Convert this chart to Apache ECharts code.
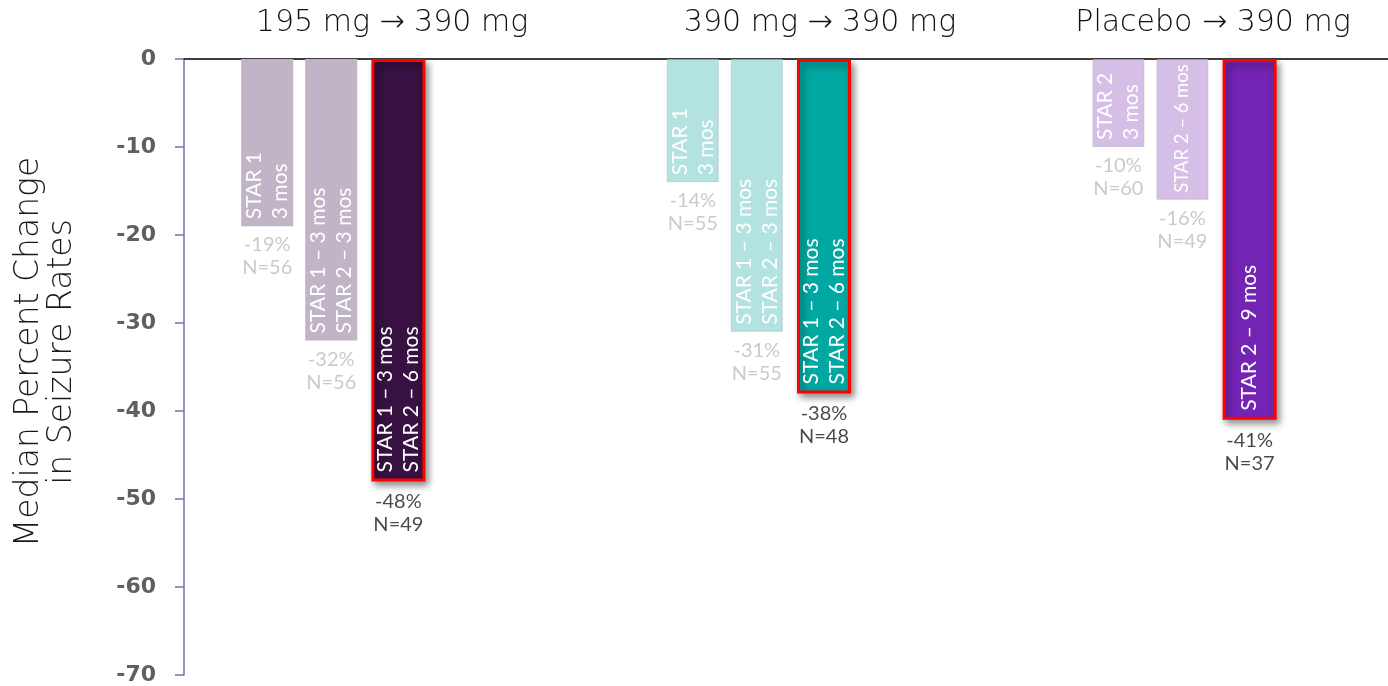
<!DOCTYPE html>
<html>
<head>
<meta charset="utf-8">
<script src="https://cdn.jsdelivr.net/npm/echarts@6/dist/echarts.min.js"></script>
<style>
  html, body { margin: 0; padding: 0; background: #ffffff; }
  #chart { width: 1388px; height: 686px; }
</style>
</head>
<body>
<div id="chart"></div>
<script>
// Treatment arms (group headers)
const groupTitles = ['195 mg \u2192 390 mg', '390 mg \u2192 390 mg', 'Placebo \u2192 390 mg'];

// Median percent change in seizure rates, per arm: [first period, second period, cumulative]
const changePct = [
  [-19, -32, -48],
  [-14, -31, -38],
  [-10, -16, -41]
];

// Number of patients per bar
const patientsN = [
  [56, 56, 49],
  [55, 55, 48],
  [60, 49, 37]
];

// Study period written inside each bar
const periodLabels = [
  ['STAR 1\n3 mos', 'STAR 1 \u2013 3 mos\nSTAR 2 \u2013 3 mos', 'STAR 1 \u2013 3 mos\nSTAR 2 \u2013 6 mos'],
  ['STAR 1\n3 mos', 'STAR 1 \u2013 3 mos\nSTAR 2 \u2013 3 mos', 'STAR 1 \u2013 3 mos\nSTAR 2 \u2013 6 mos'],
  ['STAR 2\n3 mos', 'STAR 2 \u2013 6 mos', 'STAR 2 \u2013 9 mos']
];

// Y axis range
const yMin = -70;
const yMax = 0;
const yStep = 10;

// ---- layout / style ----
const GRID = { left: 184, right: 0, top: 59, bottom: 11 };
const CHART_H = 686;
const GROUP_STEP = 6.65;          // distance between arms, in bar slots
const BAR_OFFSETS = [0, 1, 2.05]; // bar slots inside an arm
const X_MIN = -1.3;
const X_MAX = X_MIN + 1204 / 64;

const lightColors = ['#c0b4c6', '#b3e3e1', '#d6bfe6'];
const darkColors  = ['#361141', '#00a8a1', '#7424b4'];
const titleCenters = [392, 820, 1213];

const LABEL_FONT = 21;
const pxPerUnit = (CHART_H - GRID.top - GRID.bottom) / (yMax - yMin);

// Shrink a bar's inner caption when its longest line would not fit in the bar
const measureCtx = document.createElement('canvas').getContext('2d');
function fitFontSize(text, barLenPx, pad) {
  measureCtx.font = LABEL_FONT + 'px Lato';
  const longest = Math.max.apply(null, text.split('\n').map(function (s) {
    return measureCtx.measureText(s).width;
  }));
  const room = barLenPx - pad - 4;
  return longest > room ? Math.floor(LABEL_FONT * room / longest * 2) / 2 : LABEL_FONT;
}

const lightBars = [];
const darkBars = [];
const valueLabels = [];

changePct.forEach(function (row, g) {
  row.forEach(function (v, b) {
    const x = g * GROUP_STEP + BAR_OFFSETS[b];
    const highlight = b === 2;
    const pad = highlight ? 9 : 7;
    const item = {
      value: [x, v],
      itemStyle: highlight ? {
        color: darkColors[g],
        borderColor: '#ff0000',
        borderWidth: 3,
        shadowColor: 'rgba(0,0,0,0.45)',
        shadowBlur: 7,
        shadowOffsetX: 3,
        shadowOffsetY: 4
      } : {
        color: lightColors[g],
        borderColor: g === 0 ? lightColors[g] : 'rgba(170,170,190,0.45)',
        borderWidth: g === 0 ? 0 : 1
      },
      label: {
        show: true,
        formatter: periodLabels[g][b],
        position: 'insideBottom',
        distance: pad,
        rotate: 90,
        align: 'left',
        verticalAlign: 'middle',
        color: '#ffffff',
        fontFamily: 'Lato',
        fontSize: fitFontSize(periodLabels[g][b], Math.abs(v) * pxPerUnit, pad),
        lineHeight: 26
      }
    };
    (highlight ? darkBars : lightBars).push(item);

    valueLabels.push({
      value: [x, v],
      label: {
        show: true,
        position: 'bottom',
        distance: highlight ? 8 : 6,
        formatter: v + '%\nN=' + patientsN[g][b],
        color: highlight ? '#1a1a1a' : '#bdbdbd',
        fontFamily: 'Lato',
        fontSize: 20,
        lineHeight: 23,
        align: 'center'
      }
    });
  });
});

const chart = echarts.init(document.getElementById('chart'));

chart.setOption({
  animation: false,
  backgroundColor: '#ffffff',
  grid: {
    left: GRID.left, right: GRID.right, top: GRID.top, bottom: GRID.bottom,
    containLabel: false,
    outerBoundsMode: 'none'
  },
  xAxis: [
    {
      type: 'value',
      min: X_MIN,
      max: X_MAX,
      axisLine: { show: true, onZero: true, lineStyle: { color: '#000000', width: 1.5 } },
      axisTick: { show: false },
      axisLabel: { show: false },
      splitLine: { show: false }
    },
    {
      type: 'value',
      min: X_MIN,
      max: X_MAX,
      show: false,
      splitLine: { show: false }
    }
  ],
  yAxis: {
    type: 'value',
    min: yMin,
    max: yMax,
    interval: yStep,
    name: 'Median Percent Change\nin Seizure Rates',
    nameLocation: 'middle',
    nameRotate: 90,
    nameGap: 105,
    nameTextStyle: {
      fontFamily: 'DejaVu Sans',
      fontWeight: 200,
      fontSize: 33,
      lineHeight: 33,
      color: '#1a1a1a',
      padding: [0, 0, 0, 30]
    },
    axisLine: { show: true, onZero: false, lineStyle: { color: '#7272aa', width: 1.5 } },
    axisTick: { show: true, length: 9, lineStyle: { color: '#7272aa', width: 1.5 } },
    axisLabel: {
      margin: 28,
      color: '#5f5f5f',
      fontFamily: 'DejaVu Sans',
      fontWeight: 'bold',
      fontSize: 22
    },
    splitLine: { show: false }
  },
  graphic: groupTitles.map(function (t, i) {
    return {
      type: 'text',
      x: titleCenters[i],
      y: 8,
      style: {
        text: t,
        textAlign: 'center',
        textVerticalAlign: 'top',
        fontFamily: 'DejaVu Sans',
        fontWeight: 200,
        fontSize: 30,
        fill: '#111111'
      }
    };
  }),
  series: [
    {
      type: 'bar',
      xAxisIndex: 0,
      barWidth: 52,
      data: lightBars
    },
    {
      type: 'bar',
      xAxisIndex: 1,
      barWidth: 54,
      data: darkBars,
      z: 3
    },
    {
      type: 'scatter',
      xAxisIndex: 0,
      symbolSize: 2,
      itemStyle: { color: 'rgba(0,0,0,0)' },
      data: valueLabels,
      z: 4
    }
  ]
});
</script>
</body>
</html>
